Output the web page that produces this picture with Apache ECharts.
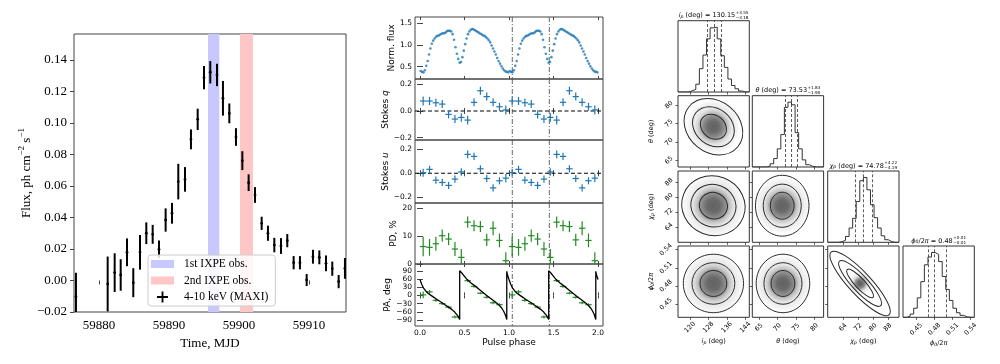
<!DOCTYPE html>
<html><head><meta charset="utf-8">
<script src="https://cdn.jsdelivr.net/npm/echarts@6/dist/echarts.min.js"></script>
<style>html,body{margin:0;padding:0;background:#fff}#c{width:1000px;height:364px}</style>
</head><body><div id="c"></div>
<script>
// ================= DATA =================
// Left panel: MAXI 4-10 keV light curve
const maxiMJD = [59876.71,59881.24,59882.24,59883.10,59884.00,59884.90,59885.86,59886.76,59887.67,59888.57,59889.52,59890.43,59891.33,59892.29,59893.14,59894.10,59895.00,59895.90,59896.86,59897.71,59898.62,59899.57,59900.48,59901.38,59902.29,59903.24,59904.14,59905.05,59906.00,59906.90,59907.81,59908.71,59909.67,59910.57,59911.48,59912.43,59913.33,59914.24,59915.14];
const maxiFlux = [-0.0103,-0.0022,0.0050,0.0035,0.0179,-0.0014,0.0179,0.0300,0.0293,0.0198,0.0384,0.0427,0.0628,0.0642,0.0896,0.1023,0.1288,0.1322,0.1305,0.1157,0.1061,0.0911,0.0761,0.0621,0.0543,0.0363,0.0300,0.0225,0.0219,0.0253,0.0113,0.0113,0.0003,0.0151,0.0147,0.0109,0.0075,-0.0007,0.0077];
const maxiErr = [0.0152,0.0174,0.0123,0.0100,0.0088,0.0092,0.0110,0.0069,0.0060,0.0056,0.0074,0.0066,0.0113,0.0078,0.0063,0.0068,0.0074,0.0071,0.0071,0.0110,0.0063,0.0056,0.0060,0.0053,0.0050,0.0042,0.0048,0.0046,0.0050,0.0042,0.0042,0.0042,0.0038,0.0044,0.0044,0.0050,0.0045,0.0042,0.0066];
const ixpe1 = [59895.57, 59897.19];
const ixpe2 = [59900.14, 59902.00];
const timeTicks = [59880, 59890, 59900, 59910];
const fluxTicks = [-0.02, 0.00, 0.02, 0.04, 0.06, 0.08, 0.10, 0.12, 0.14];

// Middle panel: pulse-phase resolved quantities (one cycle; shown twice)
const fluxProfile = [0.40,0.38,0.37,0.42,0.52,0.63,0.78,0.92,1.03,1.10,
  1.15,1.19,1.21,1.22,1.24,1.26,1.27,1.27,1.29,1.32,
  1.33,1.33,1.31,1.25,1.12,0.95,0.80,0.68,0.59,0.61,
  0.72,0.87,1.02,1.15,1.25,1.31,1.35,1.37,1.36,1.34,
  1.32,1.30,1.28,1.26,1.24,1.22,1.21,1.18,1.15,1.11,
  1.06,0.99,0.92,0.85,0.78,0.70,0.63,0.57,0.51,0.46,
  0.42,0.39,0.38,0.37];
const stokesQ    = [0.075,0.075,0.062,0.052,-0.025,-0.060,-0.048,-0.068,0.065,0.152,0.108,0.065,0.032,0.008];
const stokesQErr = [0.034,0.030,0.030,0.030,0.030,0.030,0.032,0.032,0.030,0.030,0.030,0.030,0.030,0.034];
const stokesU    = [0.005,0.033,-0.058,-0.077,-0.102,-0.049,0.011,0.159,0.142,0.038,-0.044,-0.123,-0.063,-0.041];
const stokesUErr = [0.034,0.030,0.030,0.030,0.030,0.030,0.032,0.032,0.030,0.030,0.030,0.030,0.030,0.034];
const pdVals = [6.3,6.0,7.3,10.2,9.0,5.4,2.4,15.1,13.8,13.5,8.7,12.9,8.5,1.2];
const pdErr  = [3.5,3.0,2.5,2.2,2.2,2.5,3.0,2.0,2.0,2.0,2.2,2.5,2.5,3.0];
const paVals = [2,13,-18,-30,-43,-79,null,54,33,8,-7,-27,-34,null];
const paErr  = [12,7,5,5,5,5,null,5,5,4,4,5,5,null];
const paModelPhase = [0.0,0.02,0.04,0.06,0.09,0.12,0.16,0.19,0.24,0.28,0.32,0.36,0.39,0.41,0.425,0.435,0.446,0.446,0.46,0.47,0.50,0.53,0.57,0.62,0.67,0.715,0.76,0.81,0.85,0.885,0.915,0.94,0.955,0.965,0.975,0.975,0.98,0.99,1.0];
const paModelVal   = [58,40,27,18,8,1,-8,-15,-25,-34,-43,-52,-61,-68,-75,-81,-88,90,86,82,70,58,46,34,21,9,-3,-15,-25,-34,-45,-58,-68,-77,-88,88,80,68,58];
const refPhases = [1.037, 1.453];
const phaseTicks = [0, 0.5, 1.0, 1.5, 2.0];

// Right panel: corner plot
const ipRange  = [114.8, 145.7], ipTicks  = [120, 128, 136, 144];
const thRange  = [63.2, 82.5],   thTicks  = [65, 70, 75, 80];
const chiRange = [55.7, 94.0],   chiTicks = [64, 72, 80, 88];
const phiRange = [0.428, 0.546], phiTicks = [0.45, 0.48, 0.51, 0.54];
const ipHist  = [0,0,0,0.02,0.04,0.12,0.36,0.57,0.82,0.99,1.0,0.82,0.56,0.38,0.20,0.10,0.05,0.015,0,0];
const thHist  = [0,0,0,0,0.015,0.05,0.13,0.28,0.50,0.92,1.0,0.96,0.53,0.28,0.11,0.035,0.01,0,0,0];
const chiHist = [0,0,0,0.01,0.03,0.09,0.22,0.37,0.63,0.95,1.0,0.81,0.58,0.38,0.22,0.10,0.04,0.01,0,0];
const phiHist = [0,0.015,0.05,0.14,0.30,0.55,0.81,0.93,1.0,0.97,0.86,0.63,0.43,0.26,0.14,0.07,0.03,0.005,0,0];
const ipQuant  = [127.5, 130.3, 133.6];
const thQuant  = [72.15, 73.65, 75.45];
const chiQuant = [70.5, 75.05, 79.5];
const phiQuant = [0.469, 0.484, 0.499];
// 2D posteriors: [centre x, centre y, sigma x, sigma y, correlation]
const ctrIpTh   = [130.15, 74.1, 5.65, 3.39, -0.20];
const ctrIpChi  = [130.15, 75.35, 6.1, 7.15, -0.05];
const ctrThChi  = [71.3, 75.35, 3.22, 7.26, 0.0];
const ctrIpPhi  = [130.15, 0.484, 5.8, 0.0215, 0.0];
const ctrThPhi  = [71.5, 0.484, 3.22, 0.0215, 0.0];
const ctrChiPhi = [73.1, 0.484, 7.2, 0.0237, -0.87];
const contourLevels = [1, 1.6, 2.25];
const titleVals = ['130.15', '73.53', '74.78', '0.48'];
const titleUp   = ['+3.55', '+1.83', '+4.22', '+0.01'];
const titleDn   = ['\u22123.18', '\u22121.90', '\u22124.19', '\u22120.01'];

// ================= CHART =================
const SERIF = 'Liberation Serif', SANS = 'DejaVu Sans';
const fmtN = (v, d) => (v < -1e-12 ? '\u2212' : '') + Math.abs(v).toFixed(d);
const option = {animation:false, backgroundColor:'#fff', grid:[], xAxis:[], yAxis:[], series:[], graphic:[]};
function G(left, top, width, height, bc){ option.grid.push({left, top, width, height, show:true, borderColor:bc||'#333', borderWidth:1, backgroundColor:'rgba(0,0,0,0)', outerBoundsMode:'none', containLabel:false}); return option.grid.length-1; }
function X(o){ option.xAxis.push(Object.assign({type:'value', axisLine:{show:false}, splitLine:{show:false}}, o)); return option.xAxis.length-1; }
function Y(o){ option.yAxis.push(Object.assign({type:'value', axisLine:{show:false}, splitLine:{show:false}}, o)); return option.yAxis.length-1; }

// ----- renderers -----
function crossRender(lw, dot){ return function(params, api){
  const x=api.value(0), y=api.value(1), xe=api.value(2), ye=api.value(3);
  const col = api.visual('color');
  const p=api.coord([x,y]), t=api.coord([x,y+ye]), b=api.coord([x,y-ye]);
  const ch=[{type:'line', shape:{x1:p[0],y1:t[1],x2:p[0],y2:b[1]}, style:{stroke:col,lineWidth:lw}}];
  if (xe>0){ const l=api.coord([x-xe,y]), r=api.coord([x+xe,y]); ch.push({type:'line', shape:{x1:l[0],y1:p[1],x2:r[0],y2:p[1]}, style:{stroke:col,lineWidth:lw}}); }
  if (dot){ ch.push({type:'circle', shape:{cx:p[0],cy:p[1],r:dot}, style:{fill:col}}); }
  return {type:'group', children:ch};
};}
function bandRender(params, api){
  const a=api.coord([api.value(0),0]), b=api.coord([api.value(2),0]);
  const cs=params.coordSys;
  return {type:'rect', shape:{x:a[0], y:cs.y, width:b[0]-a[0], height:cs.height}, style:{fill:api.visual('color')}};
}
function vlineRender(params, api){
  const p=api.coord([api.value(0),api.value(1)]); const cs=params.coordSys;
  return {type:'line', shape:{x1:p[0],y1:cs.y,x2:p[0],y2:cs.y+cs.height}, style:{stroke:'#555', lineWidth:0.9, lineDash:[5,2,1,2]}};
}
function hlineRender(params, api){
  const p=api.coord([api.value(0),api.value(1)]); const cs=params.coordSys;
  return {type:'line', shape:{x1:cs.x,y1:p[1],x2:cs.x+cs.width,y2:p[1]}, style:{stroke:'#000', lineWidth:1.1, lineDash:[4,2.5]}};
}
function contourRender(params, api){
  const c=api.coord([api.value(0),api.value(1)]);
  const k=api.size([1,1]);
  const sx=api.value(2)*k[0], sy=api.value(3)*k[1], rho=api.value(4);
  const a=sx*sx, d=sy*sy, b=-rho*sx*sy;
  const h=(a+d)/2, q=Math.sqrt(((a-d)/2)*((a-d)/2)+b*b);
  const r1=Math.sqrt(h+q), r2=Math.sqrt(Math.max(h-q,1e-6));
  const ang=0.5*Math.atan2(2*b, a-d);
  const L=contourLevels, outer=L[L.length-1]*1.1;
  const ch=[{type:'ellipse', shape:{cx:0,cy:0,rx:r1*outer,ry:r2*outer}, style:{stroke:null, fill:{type:'radial',x:0.5,y:0.5,r:0.5,colorStops:[
    {offset:0,color:'#626262'},{offset:0.2,color:'#6a6a6a'},{offset:0.4,color:'#939393'},{offset:0.5,color:'#c2c2c2'},{offset:0.64,color:'#e6e6e6'},{offset:0.88,color:'#f6f6f6'},{offset:1,color:'rgba(255,255,255,0)'}]}}}];
  L.forEach(m=>ch.push({type:'ellipse', shape:{cx:0,cy:0,rx:r1*m,ry:r2*m}, style:{fill:'none', stroke:'#2a2a2a', lineWidth:1}}));
  return {type:'group', x:c[0], y:c[1], rotation:-ang, children:ch};
}

// ----- LEFT PANEL -----
const g0 = G(74, 34, 272, 278, '#444');
const lx = X({gridIndex:g0, min:59876.43, max:59915.29,
  axisTick:{show:true, inside:false, length:4, lineStyle:{color:'#444'}, customValues:timeTicks},
  axisLabel:{customValues:timeTicks, formatter:v=>String(v), fontFamily:SERIF, fontSize:13, color:'#000', margin:7},
  name:'Time, MJD', nameLocation:'middle', nameGap:21, nameTextStyle:{fontFamily:SERIF, fontSize:13, color:'#000'}});
const ly = Y({gridIndex:g0, min:-0.02, max:0.1565,
  axisTick:{show:true, inside:false, length:4, lineStyle:{color:'#444'}, customValues:fluxTicks},
  axisLabel:{customValues:fluxTicks, formatter:v=>fmtN(v,2), fontFamily:SERIF, fontSize:13, color:'#000', margin:7},
  name:'{a|Flux, ph cm}{s|\u22122}{a| s}{s|\u22121}', nameLocation:'middle', nameGap:37,
  nameTextStyle:{fontFamily:SERIF, fontSize:13, color:'#000', rich:{
    a:{fontFamily:SERIF, fontSize:13, color:'#000', lineHeight:18},
    s:{fontFamily:SERIF, fontSize:9, color:'#000', lineHeight:9, verticalAlign:'top'}}}});
option.series.push({type:'custom', name:'1st IXPE obs.', xAxisIndex:lx, yAxisIndex:ly, itemStyle:{color:'#c8c8ff'}, renderItem:bandRender, data:[[ixpe1[0],0,ixpe1[1]]], z:1});
option.series.push({type:'custom', name:'2nd IXPE obs.', xAxisIndex:lx, yAxisIndex:ly, itemStyle:{color:'#ffc6c6'}, renderItem:bandRender, data:[[ixpe2[0],0,ixpe2[1]]], z:1});
option.series.push({type:'custom', name:'4-10 keV (MAXI)', xAxisIndex:lx, yAxisIndex:ly, itemStyle:{color:'#000'}, clip:true, z:3,
  renderItem:crossRender(2, 1.4), data:maxiMJD.map((t,i)=>[t, maxiFlux[i], 0, maxiErr[i]])});
option.legend = {data:[{name:'1st IXPE obs.', icon:'path://M0,0H23V8H0Z'},{name:'2nd IXPE obs.', icon:'path://M0,0H23V8H0Z'},{name:'4-10 keV (MAXI)', icon:'path://M5,0H7V5H12V7H7V12H5V7H0V5H5Z'}],
  left:148, top:255, orient:'vertical', itemWidth:23, itemHeight:11, itemGap:4.5, padding:[3,7,3,3], selectedMode:false,
  borderColor:'#ccc', borderWidth:1, borderRadius:3, backgroundColor:'rgba(255,255,255,0.85)',
  textStyle:{fontFamily:SERIF, fontSize:11.5, color:'#000', lineHeight:12, padding:[0,0,0,5]}};

// ----- MIDDLE PANEL -----
const midTop = [17, 79, 140, 203, 264], midBot = [79, 140, 203, 264, 326];
const BLUE = '#1f77b4', GREEN = '#228b22';
const midY = [
  {min:0.217, max:1.645, ticks:[0.5,1.0,1.5], fmt:v=>v.toFixed(1), name:'Norm. flux'},
  {min:-0.217, max:0.24, ticks:[-0.2,0,0.2], fmt:v=>fmtN(v,1), name:'Stokes {i|q}'},
  {min:-0.25, max:0.28, ticks:[-0.2,0,0.2], fmt:v=>fmtN(v,1), name:'Stokes {i|u}'},
  {min:0, max:22, ticks:[0,10,20], fmt:v=>String(v), name:'PD, %'},
  {min:-112, max:115, ticks:[-90,-60,-30,0,30,60,90], fmt:v=>fmtN(v,0), name:'PA, deg'}];
const midAx = [];
midY.forEach((cfg, k) => {
  const g = G(415, midTop[k], 188, midBot[k]-midTop[k], '#444');
  const last = k === midY.length-1;
  const tick = vals => ({show:true, inside:true, length:3, lineStyle:{color:'#444'}, customValues:vals});
  const xa = X({gridIndex:g, min:-0.056, max:2.056, axisTick:tick(phaseTicks),
    axisLabel:{show:last, customValues:phaseTicks, formatter:v=>v.toFixed(1), fontFamily:SANS, fontSize:7.5, color:'#000', margin:3},
    name: last ? 'Pulse phase' : '', nameLocation:'middle', nameGap:12, nameTextStyle:{fontFamily:SANS, fontSize:9, color:'#000'}});
  X({gridIndex:g, position:'top', min:-0.056, max:2.056, axisTick:tick(phaseTicks), axisLabel:{show:false}});
  const ya = Y({gridIndex:g, min:cfg.min, max:cfg.max, axisTick:tick(cfg.ticks),
    axisLabel:{customValues:cfg.ticks, formatter:cfg.fmt, fontFamily:SANS, fontSize:7.5, color:'#000', margin:3},
    name:cfg.name, nameLocation:'middle', nameGap:17,
    nameTextStyle:{fontFamily:SANS, fontSize:9, color:'#000', rich:{i:{fontFamily:SANS, fontSize:9, fontStyle:'italic', color:'#000'}}}});
  Y({gridIndex:g, position:'right', min:cfg.min, max:cfg.max, axisTick:tick(cfg.ticks), axisLabel:{show:false}});
  midAx.push([xa, ya]);
  option.series.push({type:'custom', xAxisIndex:xa, yAxisIndex:ya, renderItem:vlineRender, data:refPhases.map(p=>[p,0]), z:1, silent:true});
});
const cyc = [0, 1];
const binC = (i, n, c) => (i+0.5)/n + c;
// flux profile
option.series.push({type:'scatter', xAxisIndex:midAx[0][0], yAxisIndex:midAx[0][1], symbolSize:2.6, itemStyle:{color:BLUE},
  data: cyc.flatMap(c => fluxProfile.map((v,i)=>[binC(i,64,c), v]))});
function crossSeries(k, vals, errs, col){
  option.series.push({type:'custom', xAxisIndex:midAx[k][0], yAxisIndex:midAx[k][1], itemStyle:{color:col}, clip:true, z:3,
    renderItem:crossRender(1.2, 0),
    data: cyc.flatMap(c => vals.map((v,i)=> v===null ? null : [binC(i,14,c), v, 0.5/14, errs[i]]).filter(d=>d))});
}
crossSeries(1, stokesQ, stokesQErr, BLUE);
crossSeries(2, stokesU, stokesUErr, BLUE);
crossSeries(3, pdVals, pdErr, GREEN);
crossSeries(4, paVals, paErr, GREEN);
[1,2].forEach(k => option.series.push({type:'custom', xAxisIndex:midAx[k][0], yAxisIndex:midAx[k][1], renderItem:hlineRender, data:[[0,0]], z:2, silent:true}));
option.series.push({type:'line', xAxisIndex:midAx[4][0], yAxisIndex:midAx[4][1], showSymbol:false, symbol:'none', clip:true, z:4,
  lineStyle:{color:'#000', width:1.3}, data: cyc.flatMap(c => paModelPhase.map((p,i)=>[p+c, paModelVal[i]]))});

// ----- CORNER PLOT -----
const colL = [678, 752.3, 827.7, 903], rowT = [20.7, 95.7, 171, 246], cw = 71.3;
const ranges = [ipRange, thRange, chiRange, phiRange];
const ticksC = [ipTicks, thTicks, chiTicks, phiTicks];
const hists = [ipHist, thHist, chiHist, phiHist];
const quants = [ipQuant, thQuant, chiQuant, phiQuant];
const ctrs = {'0-1':ctrIpTh, '0-2':ctrIpChi, '1-2':ctrThChi, '0-3':ctrIpPhi, '1-3':ctrThPhi, '2-3':ctrChiPhi};
const cRich = {
  n:{fontFamily:SANS, fontSize:6.5, color:'#000'},
  i:{fontFamily:SANS, fontSize:6.5, fontStyle:'italic', color:'#000'},
  s:{fontFamily:SANS, fontSize:4.6, fontStyle:'italic', color:'#000', lineHeight:5, verticalAlign:'bottom'}};
const pNames = ['{i|i}{s|p}{n| (deg)}', '{i|\u03b8}{n| (deg)}', '{i|\u03c7}{s|p}{n| (deg)}', '{i|\u03d5}{s|0}{n|/2}{i|\u03c0}'];
const cFmt = (p, v) => p === 3 ? v.toFixed(2) : String(v);
for (let r = 0; r < 4; r++) {
  for (let c = 0; c <= r; c++) {
    const g = G(colL[c], rowT[r], cw, cw, '#333');
    const xa = X({gridIndex:g, min:ranges[c][0], max:ranges[c][1],
      axisTick:{show:true, inside:false, length:2.5, lineStyle:{color:'#333', width:0.8}, customValues:ticksC[c]},
      axisLabel:{show:r===3, customValues:ticksC[c], formatter:v=>cFmt(c,v), rotate:45, align:'center', verticalAlign:'middle',
        fontFamily:SANS, fontSize:6.5, color:'#000', margin:c===3?12:10},
      name: r===3 ? pNames[c] : '', nameLocation:'middle', nameGap:21, nameTextStyle:{fontFamily:SANS, fontSize:6.5, color:'#000', rich:cRich}});
    if (r === c) {
      const ya = Y({gridIndex:g, min:0, max:1.1, show:false});
      const [lo, hi] = ranges[c]; const n = hists[c].length; const w = (hi-lo)/n;
      const pts = hists[c].map((v,i)=>[lo+i*w, v]); pts.push([hi, hists[c][n-1]]);
      option.series.push({type:'line', xAxisIndex:xa, yAxisIndex:ya, step:'end', symbol:'none', showSymbol:false,
        lineStyle:{color:'#333', width:1}, data:pts,
        markLine:{symbol:'none', silent:true, label:{show:false}, lineStyle:{type:[3,2], color:'#333', width:0.8},
          data: quants[c].map(v=>({xAxis:v}))}});
    } else {
      const ya = Y({gridIndex:g, min:ranges[r][0], max:ranges[r][1],
        axisTick:{show:true, inside:false, length:2.5, lineStyle:{color:'#333', width:0.8}, customValues:ticksC[r]},
        axisLabel:{show:c===0, customValues:ticksC[r], formatter:v=>cFmt(r,v), rotate:45, align:'center', verticalAlign:'middle',
          fontFamily:SANS, fontSize:6.5, color:'#000', margin:r===3?12:9},
        name: c===0 ? pNames[r] : '', nameLocation:'middle', nameGap:23, nameTextStyle:{fontFamily:SANS, fontSize:6.5, color:'#000', rich:cRich}});
      option.series.push({type:'custom', xAxisIndex:xa, yAxisIndex:ya, clip:true, renderItem:contourRender, data:[ctrs[c+'-'+r]], silent:true});
    }
  }
}
// corner titles
const mctx = document.createElement('canvas').getContext('2d');
const tw = (t, s) => { mctx.font = s + 'px ' + SANS; return mctx.measureText(t).width; };
const tHead = ['{i|i}{s|p}{n| (deg) = ', '{i|\u03b8}{n| (deg) = ', '{i|\u03c7}{s|p}{n| (deg) = ', '{i|\u03d5}{s|0}{n|/2}{i|\u03c0}{n| = '];
const tPlain = [['i (deg) = ','p'], ['\u03b8 (deg) = ',''], ['\u03c7 (deg) = ','p'], ['\u03d5/2\u03c0 = ','0']];
for (let k = 0; k < 4; k++) {
  const cx = colL[k] + cw/2, cy = rowT[k] - 5;
  const wMain = tw(tPlain[k][0] + titleVals[k], 6.5) + tw(tPlain[k][1], 4.6);
  const wScr = Math.max(tw(titleUp[k], 4.2), tw(titleDn[k], 4.2));
  const x0 = cx - (wMain + wScr + 0.5)/2 + wMain;
  option.graphic.push({type:'text', x:x0, y:cy, silent:true, style:{text: tHead[k] + titleVals[k] + '}', rich:cRich,
    align:'right', verticalAlign:'middle', textAlign:'right', textVerticalAlign:'middle', fill:'#000', font:'6.5px ' + SANS}});
  option.graphic.push({type:'text', x:x0+0.5, y:cy-0.5, silent:true, style:{text: titleUp[k] + '\n' + titleDn[k],
    align:'left', verticalAlign:'middle', textAlign:'left', textVerticalAlign:'middle', fill:'#000', font:'4.2px ' + SANS, lineHeight:4.6}});
}

const chart = echarts.init(document.getElementById('c'), null, {renderer:'canvas', width:1000, height:364});
chart.setOption(option);
</script>
</body></html>
